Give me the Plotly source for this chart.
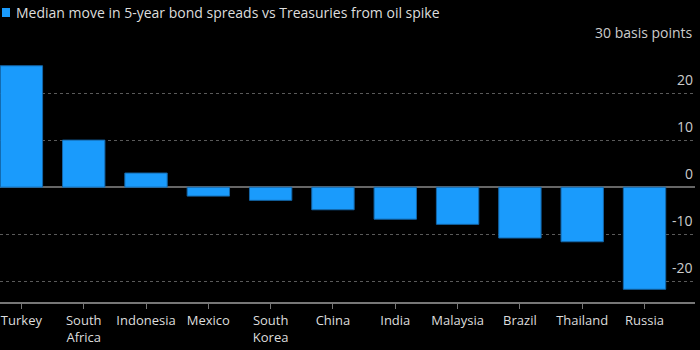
import plotly.graph_objects as go

categories = ["Turkey", "South Africa", "Indonesia", "Mexico", "South Korea", "China",
              "India", "Malaysia", "Brazil", "Thailand", "Russia"]
tick_labels = ["Turkey", "South<br>Africa", "Indonesia", "Mexico", "South<br>Korea", "China",
               "India", "Malaysia", "Brazil", "Thailand", "Russia"]
values = [25.8, 10.0, 3.0, -1.9, -2.8, -4.8, -6.8, -7.9, -10.8, -11.6, -21.7]
y_ticks = [30, 20, 10, 0, -10, -20]
y_tick_text = ["30 basis points", "20", "10", "0", "-10", "-20"]
title_text = "Median move in 5-year bond spreads vs Treasuries from oil spike"

FONT = "Open Sans"
BLUE = "#1a9bfc"

fig = go.Figure()
fig.add_trace(go.Bar(
    x=categories, y=values, width=0.68,
    marker=dict(color=BLUE, line=dict(color="#1466a8", width=1)),
    showlegend=False,
))

fig.update_layout(
    width=700, height=350,
    margin=dict(l=0, r=5, t=46, b=48),
    paper_bgcolor="black", plot_bgcolor="black",
    font=dict(family=FONT, size=13, color="#dddddd"),
    bargap=0.32,
)
fig.update_xaxes(
    type="category", categoryorder="array", categoryarray=categories,
    tickvals=categories, ticktext=tick_labels,
    range=[-0.3435, 10.81],
    showgrid=False, zeroline=False,
    showline=True, linecolor="#777777", linewidth=2,
    ticks="outside", ticklen=5, tickcolor="#777777", tickwidth=1,
    tickfont=dict(family=FONT, size=13, color="#dddddd"),
)
fig.update_yaxes(
    range=[-24.4, 30], tickvals=y_ticks, showticklabels=False,
    showgrid=True, gridcolor="#5a5a5a", griddash="dot", gridwidth=1,
    zeroline=True, zerolinecolor="#666666", zerolinewidth=2,
    showline=False,
)

for v, t in zip(y_ticks, y_tick_text):
    fig.add_annotation(x=1, xref="paper", y=v, yref="y", text=t, showarrow=False,
                       xanchor="right", yanchor="middle", yshift=14,
                       font=dict(family=FONT, size=14, color="#cccccc"))

fig.add_shape(type="rect", xref="paper", yref="paper",
              x0=2/695, x1=10/695, y0=1 + (46 - 17) / 256, y1=1 + (46 - 8) / 256,
              fillcolor=BLUE, line=dict(width=0))
fig.add_annotation(x=14/695, xref="paper", y=1 + (46 - 12.5) / 256, yref="paper",
                   text=title_text, showarrow=False, xanchor="left", yanchor="middle",
                   font=dict(family=FONT, size=14, color="#dddddd"))

fig.write_html("out.html")
